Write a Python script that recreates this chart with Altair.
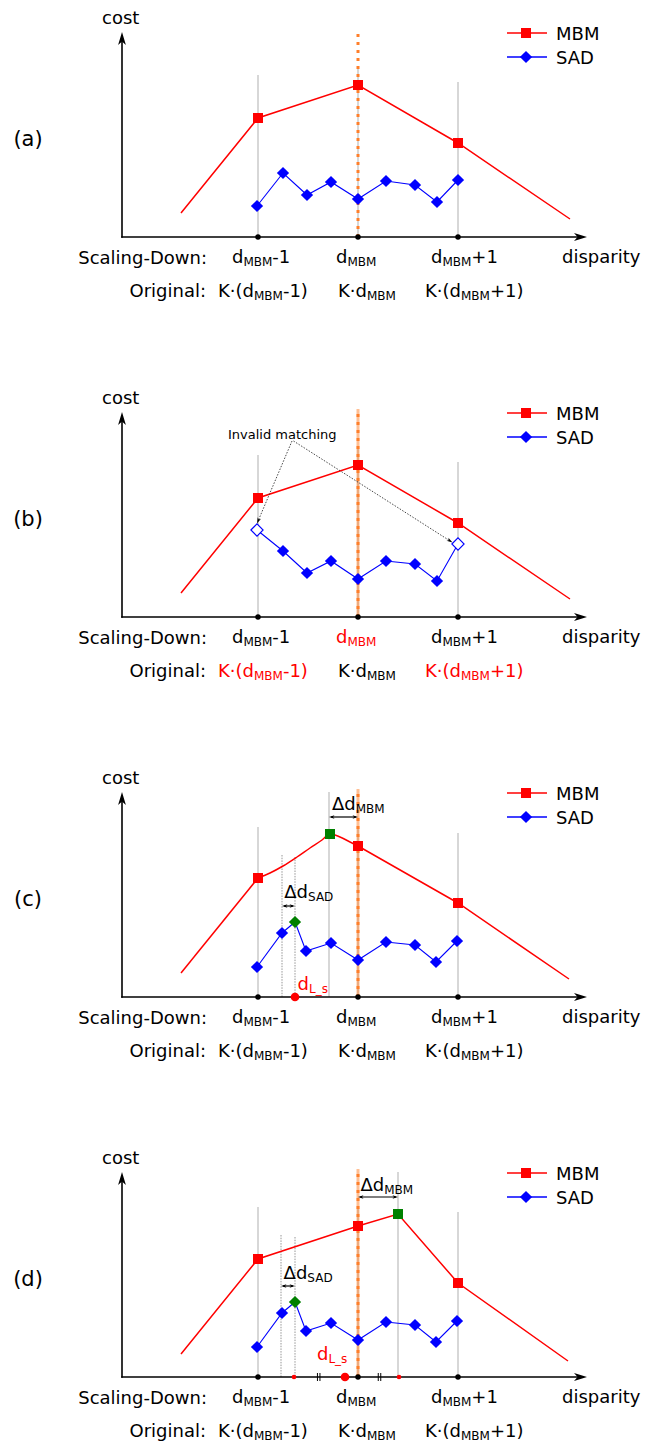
import math
import altair as alt
import pandas as pd

FONT = "DejaVu Sans"
RED, BLUE, GREEN, ORANGE = "#ff0000", "#0000ff", "#008000", "#ff7f2a"
GRID_GRAY, INTERP_GRAY = "#bdbdbd", "#8a8a8a"

# ---------------- data (disparity in scaled-down units, d_MBM = 0) ----------------
PANEL_TAGS = ["(a)", "(b)", "(c)", "(d)"]
TICK_D = [-1.0, 0.0, 1.0]

MBM_D_AB = [-1.77, -1.0, 0.0, 1.0, 2.12]
MBM_COST_AB = [0.24, 1.19, 1.52, 0.94, 0.18]
MBM_ROLE_AB = ["end", "sample", "sample", "sample", "end"]

MBM_D_C = [-1.77, -1.0, -0.88, -0.75, -0.61, -0.48, -0.36, -0.28, -0.18, -0.08, 0.0, 1.0, 2.11]
MBM_COST_C = [0.24, 1.19, 1.24, 1.31, 1.40, 1.49, 1.57, 1.63, 1.60, 1.55, 1.51, 0.94, 0.18]
MBM_ROLE_C = ["end", "sample", "fit", "fit", "fit", "fit", "fit", "refined", "fit", "fit",
              "sample", "sample", "end"]

MBM_D_D = [-1.77, -1.0, 0.0, 0.40, 1.0, 2.10]
MBM_COST_D = [0.23, 1.18, 1.51, 1.63, 0.94, 0.16]
MBM_ROLE_D = ["end", "sample", "sample", "refined", "sample", "end"]

SAD_D_AB = [-1.01, -0.75, -0.51, -0.27, 0.0, 0.28, 0.57, 0.79, 1.0]
SAD_COST_A = [0.31, 0.64, 0.42, 0.55, 0.38, 0.56, 0.52, 0.35, 0.57]
SAD_ROLE_A = ["sample"] * 9
SAD_COST_B = [0.87, 0.66, 0.44, 0.56, 0.38, 0.56, 0.53, 0.36, 0.73]
SAD_ROLE_B = ["invalid"] + ["sample"] * 7 + ["invalid"]

SAD_D_CD = [-1.01, -0.76, -0.63, -0.52, -0.27, 0.0, 0.28, 0.57, 0.78, 0.99]
SAD_COST_CD = [0.30, 0.64, 0.75, 0.46, 0.54, 0.37, 0.55, 0.52, 0.35, 0.56]
SAD_ROLE_CD = ["sample", "sample", "refined"] + ["sample"] * 7

GUIDE_D_AB = [-1.0, 0.0, 1.0]
GUIDE_TOP_AB = [1.62, 1.70, 1.55]
GUIDE_KIND_AB = ["grid"] * 3
GUIDE_D_C = [-1.0, -0.76, -0.63, -0.29, 0.0, 1.0]
GUIDE_TOP_C = [1.70, 1.42, 1.40, 2.05, 1.70, 1.64]
GUIDE_KIND_C = ["grid", "interp", "interp", "grid", "grid", "grid"]
GUIDE_D_D = [-1.0, -0.77, -0.63, 0.0, 0.40, 1.0]
GUIDE_TOP_D = [1.70, 1.42, 1.40, 1.70, 2.05, 1.65]
GUIDE_KIND_D = ["grid", "interp", "interp", "grid", "grid", "grid"]

DLS_C = [-0.63]
DLS_D = [-0.13]
INTERP_DOTS_D = [-0.64, 0.41]
AXIS_BREAKS_D = [-0.393, 0.215]

DELTA_MBM_C = [-0.29, 0.0]
DELTA_SAD_C = [-0.76, -0.63]
DELTA_MBM_D = [0.0, 0.40]
DELTA_SAD_D = [-0.77, -0.63]

# text content (pieces: (text, is_subscript))
LBL_SD = [[("d", 0), ("MBM", 1), ("-1", 0)], [("d", 0), ("MBM", 1)], [("d", 0), ("MBM", 1), ("+1", 0)]]
LBL_OR = [[("K·(d", 0), ("MBM", 1), ("-1)", 0)], [("K·d", 0), ("MBM", 1)], [("K·(d", 0), ("MBM", 1), ("+1)", 0)]]
TXT_DMBM = [("Δd", 0), ("MBM", 1)]
TXT_DSAD = [("Δd", 0), ("SAD", 1)]
TXT_DLS = [("d", 0), ("L_s", 1)]

# ---------------- layout ----------------
W = 641
PANEL_H = [380, 380, 380, 293]
XS = alt.Scale(domain=[-3.5, 2.91], nice=False, zero=False)
AX_L, AX_R, AX_T = -2.36, 2.29, 2.05
ARROW = "M0,0 L-0.6,2 L0,1.45 L0.6,2 Z"

ADV = {" ": .318, "(": .390, ")": .390, "+": .838, "-": .361, "1": .636, ":": .337,
       "·": .318, "A": .684, "B": .686, "D": .770, "K": .656, "L": .557, "M": .863,
       "S": .635, "_": .500, "d": .635, "s": .521, "Δ": .684}
MAIN, SUB, DROP = 18, 12, 0.032


def rich(pieces, left, base, color="black"):
    rows, x = [], left
    for txt, sub in pieces:
        size = SUB if sub else MAIN
        rows.append({"x": x, "y": base - (DROP if sub else 0.0), "text": txt,
                     "size": size, "color": color, "align": "left"})
        x += sum(ADV.get(c, 0.6) for c in txt) * size / 100.0
    return rows


def plain(txt, x, y, size=18, color="black", align="left"):
    return {"x": x, "y": y, "text": txt, "size": size, "color": color, "align": align}


def head(x0, y0, x1, y1, sz):
    ang = math.degrees(math.atan2(x1 - x0, y1 - y0)) % 360
    return {"x": x1, "y": y1, "ang": ang, "sz": sz}


def shorten(x0, y0, x1, y1, px):
    L = math.hypot(x1 - x0, y1 - y0) * 100
    f = max(0.0, (L - px) / L)
    return x0 + (x1 - x0) * f, y0 + (y1 - y0) * f


def panel(k):
    h = PANEL_H[k]
    ys = alt.Scale(domain=[(229 - h) / 100.0, 2.29], nice=False, zero=False)

    def X(f="x"):
        return alt.X(f"{f}:Q", scale=XS, axis=None)

    def Y(f="y"):
        return alt.Y(f"{f}:Q", scale=ys, axis=None)

    layers = []

    # ---- vertical guide lines
    gd, gt, gk = [(GUIDE_D_AB, GUIDE_TOP_AB, GUIDE_KIND_AB), (GUIDE_D_AB, GUIDE_TOP_AB, GUIDE_KIND_AB),
                  (GUIDE_D_C, GUIDE_TOP_C, GUIDE_KIND_C), (GUIDE_D_D, GUIDE_TOP_D, GUIDE_KIND_D)][k]
    g = pd.DataFrame({"x": gd, "y": gt, "y0": 0.0, "kind": gk})
    layers.append(alt.Chart(g[g.kind == "grid"]).mark_rule(color=GRID_GRAY, strokeWidth=1.2)
                  .encode(x=X(), y=Y(), y2="y0:Q"))
    gi = g[g.kind == "interp"]
    if len(gi):
        layers.append(alt.Chart(gi).mark_rule(color=INTERP_GRAY, strokeWidth=0.9, strokeDash=[1.5, 1.2])
                      .encode(x=X(), y=Y(), y2="y0:Q"))

    # ---- axes
    layers.append(alt.Chart(pd.DataFrame({"x": [AX_L], "x2": [AX_R - 0.07], "y": [0.0]}))
                  .mark_rule(color="black", strokeWidth=1.6, strokeCap="square")
                  .encode(x=X(), x2="x2:Q", y=Y()))
    layers.append(alt.Chart(pd.DataFrame({"x": [AX_L], "y": [0.0], "y2": [AX_T - 0.07]}))
                  .mark_rule(color="black", strokeWidth=1.6, strokeCap="square")
                  .encode(x=X(), y=Y(), y2="y2:Q"))

    # ---- curves
    if k < 2:
        m = pd.DataFrame({"x": MBM_D_AB, "y": MBM_COST_AB, "role": MBM_ROLE_AB})
    elif k == 2:
        m = pd.DataFrame({"x": MBM_D_C, "y": MBM_COST_C, "role": MBM_ROLE_C})
    else:
        m = pd.DataFrame({"x": MBM_D_D, "y": MBM_COST_D, "role": MBM_ROLE_D})
    m["i"] = range(len(m))
    if k == 2:
        straight = pd.concat([m.iloc[0:2].assign(seg="left"), m.iloc[10:13].assign(seg="right")])
        curve = m.iloc[1:11]
        layers.append(alt.Chart(straight).mark_line(color=RED, strokeWidth=1.5)
                      .encode(x=X(), y=Y(), detail="seg:N", order="i:Q"))
        layers.append(alt.Chart(curve).mark_line(color=RED, strokeWidth=1.5, interpolate="monotone")
                      .encode(x=X(), y=Y(), order="i:Q"))
    else:
        layers.append(alt.Chart(m).mark_line(color=RED, strokeWidth=1.5).encode(x=X(), y=Y(), order="i:Q"))

    if k == 0:
        s = pd.DataFrame({"x": SAD_D_AB, "y": SAD_COST_A, "role": SAD_ROLE_A})
    elif k == 1:
        s = pd.DataFrame({"x": SAD_D_AB, "y": SAD_COST_B, "role": SAD_ROLE_B})
    else:
        s = pd.DataFrame({"x": SAD_D_CD, "y": SAD_COST_CD, "role": SAD_ROLE_CD})
    s["i"] = range(len(s))
    layers.append(alt.Chart(s).mark_line(color=BLUE, strokeWidth=1.1).encode(x=X(), y=Y(), order="i:Q"))

    # ---- orange d_MBM line
    o = pd.DataFrame({"x": [0.0], "y": [0.0], "y2": [2.08]})
    if k > 0:
        layers.append(alt.Chart(o).mark_rule(color=ORANGE, strokeWidth=3, opacity=0.5)
                      .encode(x=X(), y=Y(), y2="y2:Q"))
    layers.append(alt.Chart(o).mark_rule(color=ORANGE, strokeWidth=3, strokeDash=[3, 5])
                  .encode(x=X(), y=Y(), y2="y2:Q"))

    # ---- markers
    layers.append(alt.Chart(m[m.role == "sample"]).mark_point(shape="square", filled=True, color=RED,
                                                              size=100, opacity=1).encode(x=X(), y=Y()))
    mr = m[m.role == "refined"]
    if len(mr):
        layers.append(alt.Chart(mr).mark_point(shape="square", filled=True, color=GREEN, size=100, opacity=1)
                      .encode(x=X(), y=Y()))
    layers.append(alt.Chart(s[s.role == "sample"]).mark_point(shape="diamond", filled=True, color=BLUE,
                                                              size=150, opacity=1).encode(x=X(), y=Y()))
    sr = s[s.role == "refined"]
    if len(sr):
        layers.append(alt.Chart(sr).mark_point(shape="diamond", filled=True, color=GREEN, size=150, opacity=1)
                      .encode(x=X(), y=Y()))
    si = s[s.role == "invalid"]
    if len(si):
        layers.append(alt.Chart(si).mark_point(shape="diamond", filled=True, fill="white", stroke=BLUE,
                                               strokeWidth=1.1, size=150, opacity=1)
                      .encode(x=X(), y=Y()))

    # ---- axis marks
    if k == 3:
        br = []
        for b in AXIS_BREAKS_D:
            br += [b - 0.0125, b + 0.0125]
        layers.append(alt.Chart(pd.DataFrame({"x": br, "y": -0.04, "y2": 0.04}))
                      .mark_rule(color="black", strokeWidth=1).encode(x=X(), y=Y(), y2="y2:Q"))
        layers.append(alt.Chart(pd.DataFrame({"x": INTERP_DOTS_D, "y": 0.0}))
                      .mark_point(shape="circle", filled=True, color=RED, size=22, opacity=1)
                      .encode(x=X(), y=Y()))
    layers.append(alt.Chart(pd.DataFrame({"x": TICK_D, "y": 0.0}))
                  .mark_point(shape="circle", filled=True, color="black", size=30, opacity=1)
                  .encode(x=X(), y=Y()))
    if k >= 2:
        layers.append(alt.Chart(pd.DataFrame({"x": DLS_C if k == 2 else DLS_D, "y": 0.0}))
                      .mark_point(shape="circle", filled=True, color=RED, size=75, opacity=1)
                      .encode(x=X(), y=Y()))

    # ---- arrows
    heads = [head(AX_R - 0.5, 0.0, AX_R, 0.0, 169), head(AX_L, AX_T - 0.5, AX_L, AX_T, 169)]
    segs = []
    if k == 1:
        inv = s[s.role == "invalid"].reset_index(drop=True)
        targets = [(inv.x[0], inv.y[0] + 0.065), (inv.x[1] - 0.055, inv.y[1] + 0.015)]
        starts = [(-0.66, 1.76), (-0.645, 1.76)]
        for (x0, y0), (x1, y1) in zip(starts, targets):
            ex, ey = shorten(x0, y0, x1, y1, 4)
            segs.append({"x": x0, "y": y0, "x2": ex, "y2": ey, "kind": "dot"})
            heads.append(head(x0, y0, x1, y1, 36))
    if k >= 2:
        for (a, b), yy in [((DELTA_MBM_C if k == 2 else DELTA_MBM_D), 1.80),
                           ((DELTA_SAD_C if k == 2 else DELTA_SAD_D), 0.91)]:
            segs.append({"x": a + 0.02, "y": yy, "x2": b - 0.02, "y2": yy, "kind": "solid"})
            heads.append(head(b, yy, a, yy, 30))
            heads.append(head(a, yy, b, yy, 30))
    if segs:
        sg = pd.DataFrame(segs)
        if (sg.kind == "dot").any():
            layers.append(alt.Chart(sg[sg.kind == "dot"])
                          .mark_rule(color="#333333", strokeWidth=0.9, strokeDash=[1.5, 1.5])
                          .encode(x=X(), y=Y(), x2="x2:Q", y2="y2:Q"))
        if (sg.kind == "solid").any():
            layers.append(alt.Chart(sg[sg.kind == "solid"]).mark_rule(color="black", strokeWidth=1.2)
                          .encode(x=X(), y=Y(), x2="x2:Q", y2="y2:Q"))
    layers.append(alt.Chart(pd.DataFrame(heads))
                  .mark_point(shape=ARROW, filled=True, color="black", opacity=1, strokeWidth=0)
                  .encode(x=X(), y=Y(), angle=alt.Angle("ang:Q", scale=None),
                          size=alt.Size("sz:Q", scale=None)))

    # ---- legend
    leg = pd.DataFrame({"x": [1.49], "x2": [1.89], "y": [2.04], "ym": [1.80], "xm": [1.68]})
    layers.append(alt.Chart(leg).mark_rule(color=RED, strokeWidth=1.6).encode(x=X(), x2="x2:Q", y=Y()))
    layers.append(alt.Chart(leg).mark_rule(color=BLUE, strokeWidth=1.6).encode(x=X(), x2="x2:Q", y=Y("ym")))
    layers.append(alt.Chart(leg).mark_point(shape="square", filled=True, color=RED, size=100, opacity=1)
                  .encode(x=X("xm"), y=Y()))
    layers.append(alt.Chart(leg).mark_point(shape="diamond", filled=True, color=BLUE, size=150, opacity=1)
                  .encode(x=X("xm"), y=Y("ym")))

    # ---- texts
    rows = [plain(PANEL_TAGS[k], -3.30, 0.915, 21, align="center"),
            plain("cost", -2.56, 2.13),
            plain("Scaling-Down:", -1.51, -0.27, align="right"),
            plain("Original:", -1.52, -0.595, align="right"),
            plain("disparity", 2.04, -0.26),
            plain("MBM", 1.98, 1.97),
            plain("SAD", 1.98, 1.73)]
    sd_col = ["black", RED if k == 1 else "black", "black"]
    or_col = [RED if k == 1 else "black", "black", RED if k == 1 else "black"]
    for pieces, left, col in zip(LBL_SD, [-1.26, -0.22, 0.73], sd_col):
        rows += rich(pieces, left, -0.26, col)
    for pieces, left, col in zip(LBL_OR, [-1.40, -0.20, 0.67], or_col):
        rows += rich(pieces, left, -0.595, col)
    if k == 1:
        rows.append(plain("Invalid matching", -1.30, 1.78, 13))
    if k == 2:
        rows += rich(TXT_DMBM, -0.26, 1.87)
        rows += rich(TXT_DSAD, -0.737, 0.99)
        rows += rich(TXT_DLS, -0.604, 0.07, RED)
    if k == 3:
        rows += rich(TXT_DMBM, 0.024, 1.86)
        rows += rich(TXT_DSAD, -0.744, 0.98)
        rows += rich(TXT_DLS, -0.41, 0.17, RED)
    for al in ["left", "right", "center"]:
        d = pd.DataFrame([r for r in rows if r["align"] == al])
        layers.append(alt.Chart(d).mark_text(font=FONT, align=al, baseline="alphabetic")
                      .encode(x=X(), y=Y(), text="text:N", size=alt.Size("size:Q", scale=None),
                              color=alt.Color("color:N", scale=None)))

    return alt.layer(*layers).properties(width=W, height=h)


chart = (alt.vconcat(*[panel(k) for k in range(4)], spacing=0)
         .properties(padding=0)
         .configure_view(stroke=None))

chart.save("out.html", embed_options={"renderer": "svg", "actions": False})
